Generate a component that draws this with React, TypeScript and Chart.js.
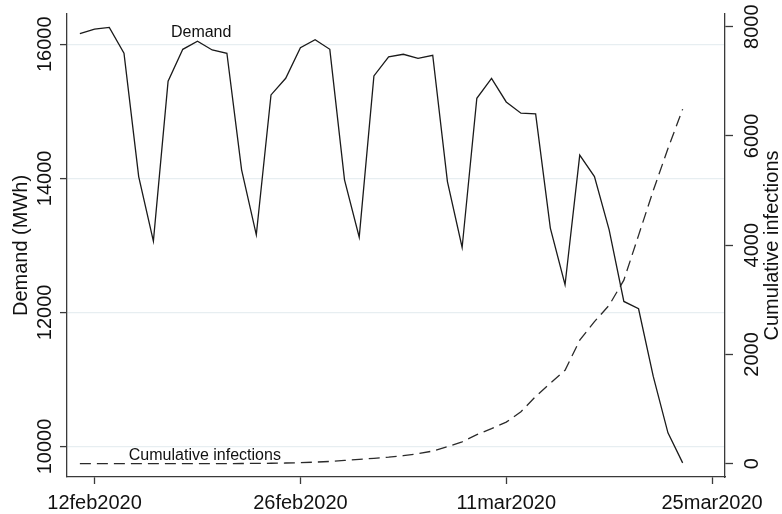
import React, { useEffect, useRef } from "react";
import { Chart, registerables } from "chart.js";

Chart.register(...registerables);

// ---------- data ----------
const DATES = [
  "2020-02-11", "2020-02-12", "2020-02-13", "2020-02-14", "2020-02-15", "2020-02-16", "2020-02-17",
  "2020-02-18", "2020-02-19", "2020-02-20", "2020-02-21", "2020-02-22", "2020-02-23", "2020-02-24",
  "2020-02-25", "2020-02-26", "2020-02-27", "2020-02-28", "2020-02-29", "2020-03-01", "2020-03-02",
  "2020-03-03", "2020-03-04", "2020-03-05", "2020-03-06", "2020-03-07", "2020-03-08", "2020-03-09",
  "2020-03-10", "2020-03-11", "2020-03-12", "2020-03-13", "2020-03-14", "2020-03-15", "2020-03-16",
  "2020-03-17", "2020-03-18", "2020-03-19", "2020-03-20", "2020-03-21", "2020-03-22", "2020-03-23",
];

const DEMAND = [
  16158, 16228, 16253, 15866, 14027, 13064, 15449,
  15925, 16045, 15915, 15866, 14127, 13158, 15245,
  15493, 15949, 16068, 15925, 13978, 13124, 15528,
  15811, 15851, 15791, 15836, 13953, 12969, 15195,
  15493, 15140, 14972, 14961, 13258, 12413, 14346,
  14027, 13233, 12164, 12055, 11046, 10203, 9756,
];

const INFECTIONS = [
  0, 0, 0, 0, 0, 0, 0,
  0, 0, 0, 0, 2, 4, 7,
  11, 18, 27, 40, 58, 78, 97,
  118, 145, 182, 230, 310, 400, 530,
  640, 760, 950, 1230, 1470, 1710, 2260,
  2600, 2900, 3360, 4180, 5000, 5770, 6490,
];

const X_TICK_DATES = ["2020-02-12", "2020-02-26", "2020-03-11", "2020-03-25"];
const X_TICK_LABELS = ["12feb2020", "26feb2020", "11mar2020", "25mar2020"];
const LEFT_TICKS = [10000, 12000, 14000, 16000];
const RIGHT_TICKS = [0, 2000, 4000, 6000, 8000];

const LEFT_TITLE = "Demand (MWh)";
const RIGHT_TITLE = "Cumulative infections";
const DEMAND_LABEL = "Demand";
const INFECTIONS_LABEL = "Cumulative infections";

// axis ranges
const BASE_DATE = "2020-02-12";
const X_MIN = -1.876;
const X_MAX = 42.88;
const Y_MIN = 9545;
const Y_MAX = 16452;
const Y1_MIN = -245;
const Y1_MAX = 8233;

// label anchors (data coordinates)
const DEMAND_LABEL_AT = { day: 7.25, value: 16109 };
const INFECTIONS_LABEL_AT = { day: 7.5, value: 60 };

const dayIndex = (s: string) => {
  const p = (d: string) => {
    const [y, m, dd] = d.split("-").map(Number);
    return Date.UTC(y, m - 1, dd);
  };
  return Math.round((p(s) - p(BASE_DATE)) / 86400000);
};

const FONT = '"Liberation Sans", Arial, sans-serif';
const TEXT_COLOR = "#111111";
const AXIS_COLOR = "#3a3a3a";
const GRID_COLOR = "#e7eef1";

const textPlugin = {
  id: "stataText",
  afterDraw(chart: any) {
    const ctx = chart.ctx;
    const { left, right, bottom, top } = chart.chartArea;
    const xs = chart.scales.x;
    const ys = chart.scales.y;
    const y1s = chart.scales.y1;
    ctx.save();
    ctx.fillStyle = TEXT_COLOR;
    ctx.textBaseline = "alphabetic";
    ctx.textAlign = "center";
    ctx.font = `20px ${FONT}`;

    X_TICK_DATES.forEach((d, i) => {
      ctx.fillText(X_TICK_LABELS[i], xs.getPixelForValue(dayIndex(d)), bottom + 32);
    });

    const rotText = (t: string, x: number, y: number) => {
      ctx.save();
      ctx.translate(x, y);
      ctx.rotate(-Math.PI / 2);
      ctx.fillText(t, 0, 0);
      ctx.restore();
    };

    LEFT_TICKS.forEach((v) => rotText(String(v), left - 16, ys.getPixelForValue(v)));
    RIGHT_TICKS.forEach((v) => rotText(String(v), right + 33, y1s.getPixelForValue(v)));
    const midY = (top + bottom) / 2;
    rotText(LEFT_TITLE, left - 40, midY);
    rotText(RIGHT_TITLE, right + 53, midY);

    ctx.font = `16px ${FONT}`;
    ctx.fillText(
      DEMAND_LABEL,
      xs.getPixelForValue(DEMAND_LABEL_AT.day),
      ys.getPixelForValue(DEMAND_LABEL_AT.value)
    );
    ctx.fillText(
      INFECTIONS_LABEL,
      xs.getPixelForValue(INFECTIONS_LABEL_AT.day),
      y1s.getPixelForValue(INFECTIONS_LABEL_AT.value)
    );
    ctx.restore();
  },
};

export default function App() {
  const canvasRef = useRef<HTMLCanvasElement | null>(null);

  useEffect(() => {
    if (!canvasRef.current) return;
    const days = DATES.map(dayIndex);
    const chart = new Chart(canvasRef.current, {
      type: "line",
      data: {
        datasets: [
          {
            label: "Demand",
            data: days.map((d, i) => ({ x: d, y: DEMAND[i] })),
            borderColor: "#1a1a1a",
            borderWidth: 1.3,
            pointRadius: 0,
            tension: 0,
            fill: false,
            yAxisID: "y",
          },
          {
            label: "Cumulative infections",
            data: days.map((d, i) => ({ x: d, y: INFECTIONS[i] })),
            borderColor: "#2a2a2a",
            borderWidth: 1.3,
            borderDash: [11, 6],
            pointRadius: 0,
            tension: 0,
            fill: false,
            yAxisID: "y1",
          },
        ],
      },
      options: {
        animation: false,
        responsive: true,
        maintainAspectRatio: false,
        layout: { padding: { top: 14, left: 0, right: 0, bottom: 0 } },
        plugins: {
          legend: { display: false },
          tooltip: { enabled: false },
        },
        scales: {
          x: {
            type: "linear",
            position: "bottom",
            min: X_MIN,
            max: X_MAX,
            afterBuildTicks: (s: any) => {
              s.ticks = X_TICK_DATES.map((d) => ({ value: dayIndex(d) }));
            },
            afterFit: (s: any) => {
              s.height = 37;
            },
            ticks: { display: false },
            grid: {
              drawOnChartArea: false,
              drawTicks: true,
              tickLength: 7,
              tickColor: AXIS_COLOR,
              tickWidth: 1.3,
            },
            border: { display: true, color: AXIS_COLOR, width: 1.3 },
          },
          y: {
            type: "linear",
            position: "left",
            min: Y_MIN,
            max: Y_MAX,
            afterBuildTicks: (s: any) => {
              s.ticks = LEFT_TICKS.map((v) => ({ value: v }));
            },
            afterFit: (s: any) => {
              s.width = 67;
            },
            ticks: { display: false },
            grid: {
              drawOnChartArea: true,
              color: GRID_COLOR,
              lineWidth: 1.2,
              drawTicks: true,
              tickLength: 7,
              tickColor: AXIS_COLOR,
              tickWidth: 1.3,
            },
            border: { display: true, color: AXIS_COLOR, width: 1.3 },
          },
          y1: {
            type: "linear",
            position: "right",
            min: Y1_MIN,
            max: Y1_MAX,
            afterBuildTicks: (s: any) => {
              s.ticks = RIGHT_TICKS.map((v) => ({ value: v }));
            },
            afterFit: (s: any) => {
              s.width = 57;
            },
            ticks: { display: false },
            grid: {
              drawOnChartArea: false,
              drawTicks: true,
              tickLength: 8,
              tickColor: AXIS_COLOR,
              tickWidth: 1.3,
            },
            border: { display: true, color: AXIS_COLOR, width: 1.3 },
          },
        },
      },
      plugins: [textPlugin],
    });
    return () => chart.destroy();
  }, []);

  return (
    <div
      style={{
        position: "fixed",
        left: 0,
        top: 0,
        width: 782,
        height: 514,
        background: "#ffffff",
      }}
    >
      <canvas ref={canvasRef} />
    </div>
  );
}
